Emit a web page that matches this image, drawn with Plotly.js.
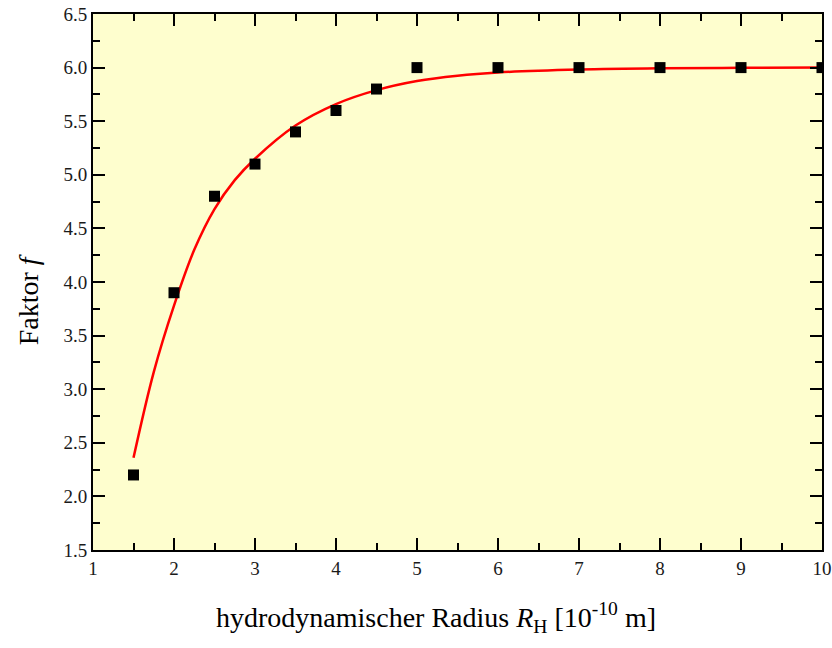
<!DOCTYPE html>
<html>
<head>
<meta charset="utf-8">
<script src="https://cdn.plot.ly/plotly-3.0.1.min.js"></script>
<style>
  html, body { margin: 0; padding: 0; background: #ffffff; }
  #chart { width: 832px; height: 648px; }
</style>
</head>
<body>
<div id="chart"></div>
<script>
// Measured factor f versus hydrodynamic radius
const radius = [1.5, 2, 2.5, 3, 3.5, 4, 4.5, 5, 6, 7, 8, 9, 10];
const faktor = [2.2, 3.9, 4.8, 5.1, 5.4, 5.6, 5.8, 6.0, 6.0, 6.0, 6.0, 6.0, 6.0];

// Fitted curve, sampled along the radius
const fitRadius = [1.5, 1.75, 2, 2.25, 2.5, 2.75, 3, 3.5, 4, 4.5, 5, 5.5, 6, 7, 8, 9, 10];
const fitFaktor = [2.36, 3.16, 3.78, 4.30, 4.68, 4.95, 5.15, 5.46, 5.66, 5.79, 5.875, 5.925, 5.955, 5.982, 5.994, 5.998, 6.0];

// Major tick labels
const xTicks = [1, 2, 3, 4, 5, 6, 7, 8, 9, 10];
const yTicks = [1.5, 2.0, 2.5, 3.0, 3.5, 4.0, 4.5, 5.0, 5.5, 6.0, 6.5];

const xTitle = 'hydrodynamischer Radius <i>R</i><sub>H</sub> [10<sup>-10</sup> m]';
const yTitle = 'Faktor <i>f</i>';

const serif = 'Liberation Serif';
const tickFont = { family: serif, size: 19, color: '#1a1a1a' };
const titleFont = { family: serif, size: 28, color: '#000000' };

const traces = [
  {
    x: fitRadius, y: fitFaktor,
    type: 'scatter', mode: 'lines',
    line: { color: '#ff0000', width: 2.5, shape: 'spline', smoothing: 1 },
    hoverinfo: 'skip'
  },
  {
    x: radius, y: faktor,
    type: 'scatter', mode: 'markers',
    marker: { symbol: 'square', size: 11, color: '#000000' },
    cliponaxis: true
  }
];

function makeAxis(extra) {
  return Object.assign({
    showline: true, linecolor: '#000000', linewidth: 2,
    mirror: 'allticks',
    ticks: 'inside', ticklen: 12, tickwidth: 2, tickcolor: '#000000',
    showgrid: false, zeroline: false,
    tickfont: tickFont
  }, extra);
}

const layout = {
  width: 832, height: 648,
  margin: { l: 93, r: 10, t: 14, b: 98 },
  paper_bgcolor: '#ffffff',
  plot_bgcolor: '#fefece',
  font: { family: serif, size: 19, color: '#1a1a1a' },
  showlegend: false,
  xaxis: makeAxis({
    range: [1, 10],
    tickmode: 'array', tickvals: xTicks, ticktext: xTicks.map(String),
    minor: { dtick: 0.5, ticklen: 7, tickwidth: 2, tickcolor: '#000000', ticks: 'inside' }
  }),
  yaxis: makeAxis({
    range: [1.5, 6.5],
    tickmode: 'array', tickvals: yTicks, ticktext: yTicks.map(v => v.toFixed(1)),
    minor: { dtick: 0.25, ticklen: 7, tickwidth: 2, tickcolor: '#000000', ticks: 'inside' }
  }),
  annotations: [
    {
      text: xTitle,
      xref: 'paper', yref: 'paper', x: 0.47, y: -0.085,
      xanchor: 'center', yanchor: 'top', showarrow: false,
      font: titleFont
    },
    {
      text: yTitle,
      xref: 'paper', yref: 'paper', x: -0.089, y: 0.466,
      xanchor: 'center', yanchor: 'middle', showarrow: false, textangle: -90,
      font: titleFont
    }
  ]
};

Plotly.newPlot('chart', traces, layout, { displayModeBar: false, staticPlot: true });
</script>
</body>
</html>
